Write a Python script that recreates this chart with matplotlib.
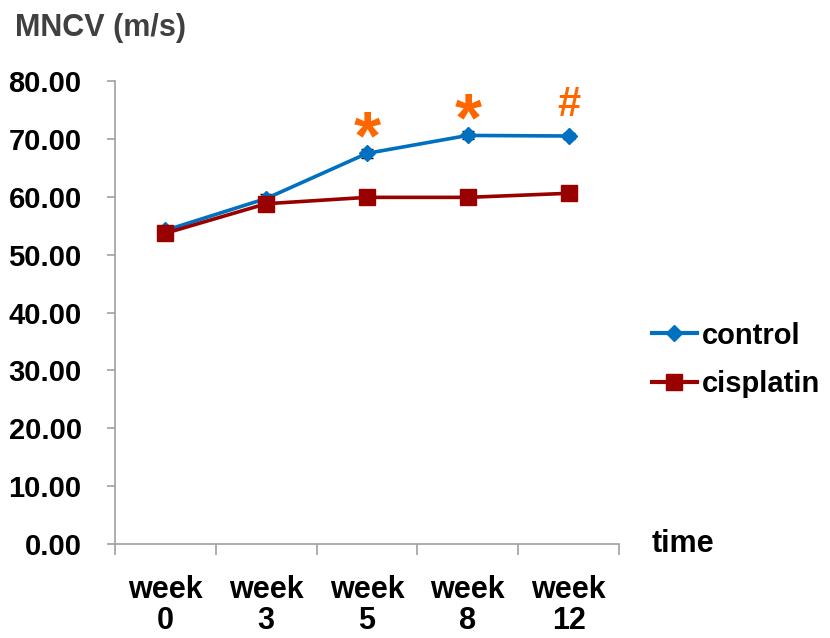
import numpy as np
import matplotlib.pyplot as plt
from matplotlib.lines import Line2D

plt.rcParams['font.family'] = ['Liberation Sans', 'DejaVu Sans']
plt.rcParams['font.weight'] = 'bold'

weeks = ["week\n0", "week\n3", "week\n5", "week\n8", "week\n12"]
control = [54.2, 59.7, 67.5, 70.6, 70.5]
control_err = [0.6, 0.8, 0.8, 0.7, 0.6]
cisplatin = [53.7, 58.8, 59.9, 59.9, 60.6]
cisplatin_err = [0.5, 0.6, 0.5, 0.5, 0.5]
marks = ["", "", "*", "*", "#"]
yticks = [0, 10, 20, 30, 40, 50, 60, 70, 80]

BLUE = '#0070C0'
RED = '#990000'
ORANGE = '#FF6600'

fig = plt.figure(figsize=(8.3, 6.38), dpi=100)
ax = fig.add_axes([0.1386, 0.1473, 0.6072, 0.7257])

x = np.arange(len(weeks))
ax.errorbar(x, control, yerr=control_err, color=BLUE, lw=2.6,
            marker='D', ms=8, ecolor='black', elinewidth=1, capsize=4, zorder=3)
ax.errorbar(x, cisplatin, yerr=cisplatin_err, color=RED, lw=2.6,
            marker='s', ms=12, ecolor='black', elinewidth=1, capsize=4, zorder=4)

# significance marks above control
for i, m in enumerate(marks):
    if m == "*":
        ax.text(x[i], control[i] + 2.2, m, ha='center', va='center',
                color=ORANGE, fontsize=50, fontweight='bold')
    elif m == "#":
        ax.text(x[i], control[i] + 5.3, m, ha='center', va='center',
                color=ORANGE, fontsize=30, fontweight='bold')

ax.set_xlim(-0.5, len(weeks) - 0.5)
ax.set_ylim(0, 80)
ax.set_yticks(yticks)
ax.set_yticklabels([f"{v:.2f}" for v in yticks])
ax.set_xticks(x)
ax.set_xticklabels(weeks)
ax.set_xticks(np.arange(-0.5, len(weeks), 1), minor=True)

for s in ['top', 'right']:
    ax.spines[s].set_visible(False)
for s in ['left', 'bottom']:
    ax.spines[s].set_color('#A0A0A0')
    ax.spines[s].set_linewidth(1.2)

ax.tick_params(axis='y', length=6, width=1.2, color='#A0A0A0', labelsize=21, pad=18)
ax.tick_params(axis='x', which='major', length=0, labelsize=22, pad=22)
ax.tick_params(axis='x', which='minor', length=8, width=1.2, color='#A0A0A0')
for lab in ax.get_xticklabels():
    lab.set_linespacing(1.05)

fig.text(15 / 830, 1 - 28 / 638, "MNCV (m/s)", color='#404040', fontsize=22,
         fontweight='bold', ha='left', va='center')
fig.text(652 / 830, 1 - 544 / 638, "time", color='black', fontsize=22,
         fontweight='bold', ha='left', va='center')

handles = [Line2D([], [], color=BLUE, lw=3, marker='D', ms=8),
           Line2D([], [], color=RED, lw=3, marker='s', ms=12)]
ax.legend(handles, ['control', 'cisplatin'], loc='center left',
          bbox_to_anchor=(1.065, 0.398), frameon=False, fontsize=21,
          borderaxespad=0, borderpad=0,
          handlelength=1.55, handletextpad=0.17, labelspacing=0.7)

fig.savefig('out.png', dpi=100)
